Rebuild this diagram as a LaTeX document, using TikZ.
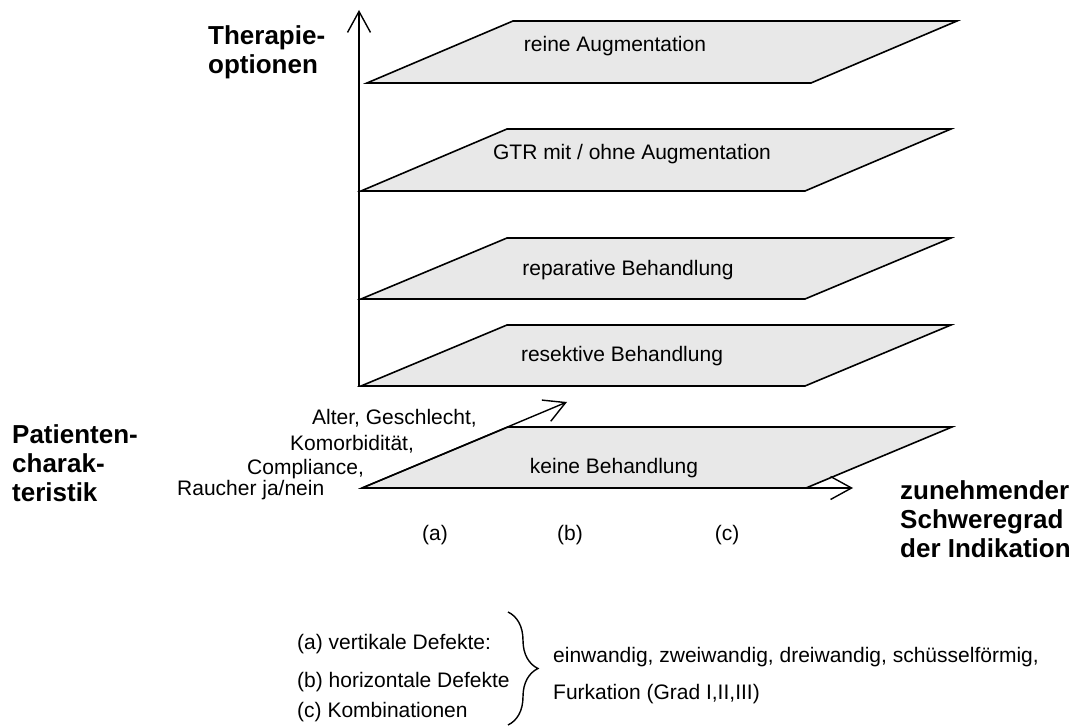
\documentclass[tikz,border=0pt]{standalone}
\usepackage{fontspec}
\setmainfont{Liberation Sans}
\usetikzlibrary{arrows.meta,decorations.pathreplacing}
\definecolor{planegray}{RGB}{232,232,232}
\begin{document}
\begin{tikzpicture}[x=1pt,y=-1pt,
  plane/.style={draw=black, fill=planegray, line width=1.6pt, line join=miter},
  barb/.style={line width=1.4pt, -{Straight Barb[length=21pt,width=23pt,line width=1.4pt]}},
  txt/.style={font=\fontsize{21}{25}\selectfont, inner sep=0pt},
  head/.style={font=\fontsize{26}{29}\selectfont\bfseries, align=left, inner sep=0pt},
]
\useasboundingbox (0,0) rectangle (1080,727);

% option planes: bottom-left corner, bottom y, top y
\def\planewidth{444}
\def\planeshift{146}
\foreach \bl/\yb/\yt in {367/83/21, 361/191/129, 361/299/238, 361/386/325, 362/488/427}{
  \draw[plane] (\bl,\yb) -- ++(\planewidth,0) -- (\bl+\planewidth+\planeshift,\yt)
               -- (\bl+\planeshift,\yt) -- cycle;
}

% plane labels
\node[txt, anchor=base] (reine) at (615,52)  {reine Augmentation};
\node[txt, anchor=base] (gtr)   at (632,160) {GTR mit / ohne Augmentation};
\node[txt, anchor=base] (repar) at (628,276) {reparative Behandlung};
\node[txt, anchor=base] (resek) at (622,362) {resektive Behandlung};
\node[txt, anchor=base] (keine) at (614,474) {keine Behandlung};

% axes
\coordinate (origin) at (362,488);
\coordinate (axbot)  at (359,387);
\coordinate (axtop)  at (359,10);
\coordinate (diagtip) at (567,402);
\coordinate (horztip) at (853,488);
\draw[barb] (axbot) -- (axtop);
\draw[barb] (origin) -- (diagtip);
\draw[barb] (origin) -- (horztip);

% axis titles (base anchor sits on the last line)
\node[head, anchor=base west] (ther) at (208,74)
  {\fontsize{26}{32}\selectfont\bfseries Therapie-\\optionen};
\node[head, anchor=base west] (pat) at (12,501)
  {\fontsize{26}{30}\selectfont\bfseries Patienten-\\charak-\\teristik};
\node[head, anchor=base west] (schw) at (900,557)
  {\fontsize{26}{28}\selectfont\bfseries zunehmender\\Schweregrad\\der Indikation};

% patient characteristics
\node[txt, anchor=base west] (alter) at (312,425) {Alter, Geschlecht,};
\node[txt, anchor=base west] (komor) at (290,450) {Komorbidität,};
\node[txt, anchor=base west] (compl) at (247,475) {Compliance,};
\node[txt, anchor=base west] (rauch) at (177,496) {Raucher ja/nein};

% severity marks
\node[txt, anchor=base] (ma) at (435,540) {(a)};
\node[txt, anchor=base] (mb) at (570,540) {(b)};
\node[txt, anchor=base] (mc) at (727,540) {(c)};

% defect legend
\node[txt, anchor=base west] (la) at (297,649) {(a) vertikale Defekte:};
\node[txt, anchor=base west] (lb) at (297,687) {(b) horizontale Defekte};
\node[txt, anchor=base west] (lc) at (297,717) {(c) Kombinationen};
\coordinate (brtop) at (508,612);
\coordinate (brbot) at (508,725);
\draw[line width=1.4pt, decorate, decoration={brace, amplitude=30pt, aspect=0.5}]
  (brtop) -- (brbot);
\node[txt, anchor=base west] (lr1) at (553,662) {einwandig, zweiwandig, dreiwandig, schüsselförmig,};
\node[txt, anchor=base west] (lr2) at (553,699) {Furkation (Grad I,II,III)};
\end{tikzpicture}
\end{document}
